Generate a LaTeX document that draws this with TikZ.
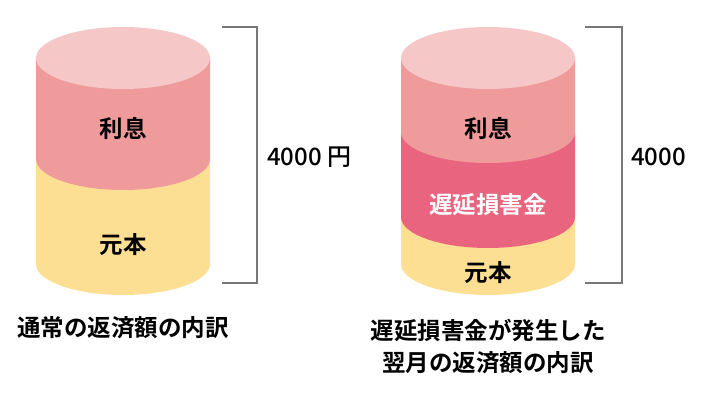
\documentclass[tikz,border=0pt]{standalone}
\usepackage{fontspec}
\setmainfont{Noto Sans CJK JP}[BoldFont={Noto Sans CJK JP Bold}]
\newfontfamily\sumfont{Noto Sans CJK JP Medium}
\usepackage{tikz}
\usetikzlibrary{positioning,calc}

\definecolor{topPink}{HTML}{F5C7C7}
\definecolor{risokuPink}{HTML}{F09B9B}
\definecolor{chienRed}{HTML}{E9657F}
\definecolor{ganponYellow}{HTML}{FDDF94}
\definecolor{bracketGray}{HTML}{777777}

% one band of a cylinder: centre x, upper edge y, lower edge y, colour
\newcommand{\cylBand}[4]{%
  \fill[#4] ($(#1,#2)+(-87,0)$) -- ($(#1,#3)+(-87,0)$)
    arc[start angle=180, end angle=360, x radius=87, y radius=31]
    -- ($(#1,#2)+(87,0)$) -- cycle;}
\newcommand{\cylTop}[2]{%
  \fill[topPink] (#1,#2) ellipse[x radius=87, y radius=31];}

\tikzset{
  bandtext/.style={font=\bfseries\fontsize{23.5}{28}\selectfont, inner sep=0pt},
  sumtext/.style={font=\sumfont\fontsize{24}{28}\selectfont, inner sep=0pt, anchor=west},
  captext/.style={font=\bfseries\fontsize{23.5}{32}\selectfont, inner sep=0pt, align=center},
  bracket/.style={draw=bracketGray, line width=1.2pt}
}

\begin{document}
\begin{tikzpicture}[x=1pt, y=1pt]
    \useasboundingbox (0,0) rectangle (701,410);

    % left cylinder
    \cylBand{123}{251}{146}{ganponYellow}
    \cylBand{123}{352}{251}{risokuPink}
    \cylTop{123}{352}
    \node[bandtext] (risokuL) at (123,282) {利息};
    \node[bandtext] (ganponL) at (123,165) {元本};

    % right cylinder
    \cylBand{488}{193}{146}{ganponYellow}
    \cylBand{488}{278}{193}{chienRed}
    \cylBand{488}{352}{278}{risokuPink}
    \cylTop{488}{352}
    \node[bandtext] (risokuR) at (488,282) {利息};
    \node[bandtext, text=white] (chienR) at (488,205) {遅延損害金};
    \node[bandtext] (ganponR) at (488,137) {元本};

    % brackets
    \coordinate (bLtop) at (222,383);
    \coordinate (bLbot) at (222,127);
    \coordinate (bRtop) at (585,383);
    \coordinate (bRbot) at (585,127);
    \draw[bracket] (bLtop) -- ++(35,0) |- (bLbot);
    \draw[bracket] (bRtop) -- ++(37,0) |- (bRbot);

    \node[sumtext] (sumL) at (267,253) {4000 円};
    \node[sumtext] (sumR) at (631,253) {4000};

    % captions
    \node[captext] (capL) at (123,82) {通常の返済額の内訳};
    \node[captext] (capR) at (488,64) {遅延損害金が発生した\\翌月の返済額の内訳};
\end{tikzpicture}
\end{document}
